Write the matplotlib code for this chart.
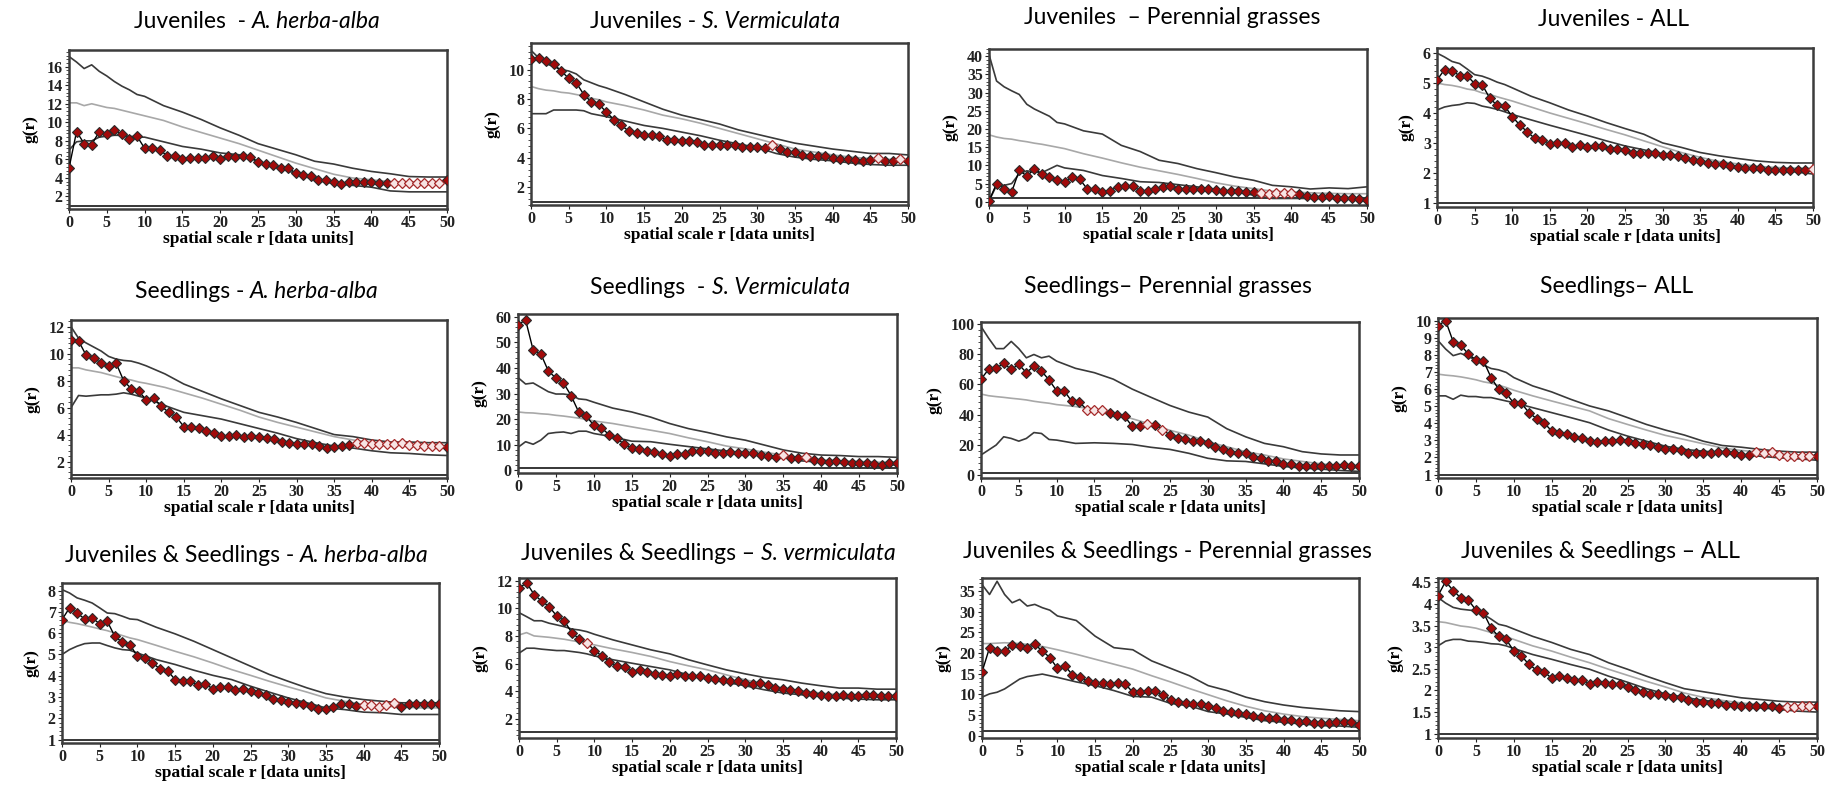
import matplotlib
matplotlib.use("Agg")
import matplotlib.pyplot as plt
import numpy as np
from matplotlib.font_manager import FontProperties
from matplotlib.ticker import AutoMinorLocator, FormatStrFormatter, MultipleLocator

# distance classes of the pair-correlation function g(r)
R_OBS = list(range(0, 51))
R_ENV = [0, 1, 2, 3, 4, 5, 6, 7, 8, 9, 10, 12.5, 15, 17.5, 20, 22.5, 25, 27.5,
         30, 32.5, 35, 37.5, 40, 42.5, 45, 47.5, 50]

# ---- Juveniles - A. herba-alba
juv_aha_obs = [5.05, 9.0, 7.7, 7.6, 9.0, 8.7, 9.2, 8.7, 8.2, 8.5, 7.2, 7.2, 7.0, 6.4, 6.4,
               6.0, 6.1, 6.2, 6.1, 6.4, 6.0, 6.4, 6.3, 6.4, 6.3, 5.7, 5.5, 5.4, 5.1, 5.1,
               4.5, 4.3, 4.2, 3.8, 3.8, 3.6, 3.4, 3.6, 3.6, 3.6, 3.6, 3.45, 3.45, 3.5, 3.5,
               3.5, 3.5, 3.5, 3.5, 3.5, 3.8]
juv_aha_hi = [17.1, 16.5, 15.8, 16.2, 15.5, 15.0, 14.4, 13.9, 13.5, 13.0, 12.8, 11.8, 11.1,
              10.3, 9.4, 8.6, 7.7, 7.1, 6.5, 5.8, 5.5, 5.05, 4.7, 4.45, 4.15, 4.1, 4.1]
juv_aha_csr = [12.1, 12.1, 11.8, 12.0, 11.8, 11.6, 11.5, 11.3, 11.1, 10.9, 10.7, 10.2, 9.5,
               8.9, 8.3, 7.7, 7.0, 6.3, 5.6, 5.0, 4.4, 4.0, 3.8, 3.6, 3.55, 3.5, 3.5]
juv_aha_lo = [7.0, 7.9, 8.0, 8.0, 8.4, 8.5, 8.6, 8.6, 8.5, 8.4, 8.4, 7.9, 7.4, 7.1, 6.7,
              6.5, 5.8, 5.1, 4.5, 3.8, 3.4, 3.2, 3.0, 2.6, 2.5, 2.5, 2.5]

# ---- Juveniles - S. vermiculata
juv_sve_obs = [10.7, 10.8, 10.6, 10.35, 9.9, 9.4, 9.1, 8.3, 7.8, 7.65, 7.1, 6.6, 6.2, 5.8,
               5.7, 5.55, 5.55, 5.5, 5.2, 5.2, 5.15, 5.15, 5.1, 4.9, 4.9, 4.9, 4.85, 4.9,
               4.75, 4.75, 4.75, 4.7, 4.9, 4.6, 4.4, 4.4, 4.2, 4.15, 4.15, 4.1, 4.0, 3.9,
               3.9, 3.85, 3.8, 3.85, 4.0, 3.8, 3.8, 3.95, 3.8]
juv_sve_hi = [11.3, 10.8, 10.4, 10.2, 10.0, 9.9, 9.7, 9.3, 9.1, 8.9, 8.75, 8.3, 7.8, 7.3,
              6.9, 6.6, 6.3, 5.9, 5.6, 5.3, 5.0, 4.8, 4.6, 4.45, 4.3, 4.3, 4.2]
juv_sve_csr = [8.85, 8.7, 8.6, 8.55, 8.45, 8.4, 8.3, 8.2, 8.05, 7.95, 7.8, 7.55, 7.25, 6.9,
               6.65, 6.35, 6.0, 5.65, 5.3, 4.95, 4.6, 4.4, 4.2, 4.05, 3.95, 3.9, 3.85]
juv_sve_lo = [7.0, 7.0, 7.0, 7.25, 7.25, 7.25, 7.25, 7.2, 7.0, 6.9, 6.8, 6.5, 6.2, 6.0,
              5.75, 5.5, 5.2, 4.95, 4.7, 4.3, 4.05, 3.9, 3.8, 3.65, 3.55, 3.5, 3.5]

# ---- Juveniles - perennial grasses
juv_per_obs = [0.2, 5.0, 3.6, 2.7, 8.6, 7.1, 8.9, 7.7, 6.8, 6.1, 5.5, 6.8, 6.2, 3.5, 3.4,
               2.7, 3.0, 4.1, 4.4, 4.3, 3.0, 3.0, 3.6, 4.1, 4.4, 3.6, 3.6, 3.4, 3.6, 3.6,
               3.2, 3.0, 3.0, 2.9, 2.7, 2.7, 2.5, 2.1, 2.3, 2.3, 2.5, 2.0, 1.6, 1.4, 1.4,
               1.5, 1.1, 1.1, 1.1, 0.7, 0.6]
juv_per_hi = [40.5, 33.2, 31.6, 30.5, 29.5, 26.8, 25.5, 24.5, 23.5, 21.8, 21.4, 19.5, 18.6,
              15.5, 13.8, 11.4, 10.5, 9.1, 8.0, 6.8, 5.9, 4.5, 4.1, 3.5, 3.8, 3.6, 4.1]
juv_per_csr = [18.4, 17.8, 17.4, 17.2, 16.8, 16.5, 16.1, 15.8, 15.4, 15.0, 14.6, 13.2, 12.0,
               10.7, 9.5, 8.5, 7.5, 6.4, 5.2, 4.3, 3.6, 2.9, 2.7, 2.45, 2.3, 2.2, 2.2]
juv_per_lo = [0.2, 4.5, 4.5, 5.0, 7.7, 8.5, 8.2, 8.0, 9.0, 10.0, 9.3, 8.6, 7.2, 6.4, 5.5,
              5.3, 4.7, 4.1, 3.2, 2.7, 1.8, 0.9, 0.9, 0.9, 0.9, 0.9, 0.7]

# ---- Juveniles - all species
juv_all_obs = [5.1, 5.45, 5.4, 5.25, 5.25, 4.98, 4.95, 4.5, 4.25, 4.23, 3.88, 3.6, 3.37,
               3.15, 3.1, 2.98, 3.0, 3.0, 2.87, 2.93, 2.85, 2.9, 2.9, 2.8, 2.8, 2.76, 2.68,
               2.68, 2.65, 2.65, 2.6, 2.6, 2.57, 2.5, 2.44, 2.4, 2.33, 2.3, 2.3, 2.24, 2.18,
               2.15, 2.15, 2.15, 2.1, 2.1, 2.1, 2.1, 2.1, 2.1, 2.13]
juv_all_hi = [6.0, 5.87, 5.72, 5.65, 5.47, 5.28, 5.23, 5.14, 5.03, 4.95, 4.84, 4.56, 4.34,
              4.1, 3.9, 3.68, 3.48, 3.29, 3.0, 2.85, 2.68, 2.57, 2.48, 2.4, 2.35, 2.33, 2.33]
juv_all_csr = [5.0, 4.95, 4.92, 4.87, 4.8, 4.76, 4.67, 4.62, 4.54, 4.47, 4.4, 4.2, 4.0,
               3.82, 3.64, 3.45, 3.27, 3.07, 2.87, 2.68, 2.52, 2.38, 2.3, 2.22, 2.18, 2.16, 2.15]
juv_all_lo = [4.1, 4.2, 4.25, 4.28, 4.34, 4.32, 4.23, 4.18, 4.12, 4.04, 3.95, 3.77, 3.59,
              3.42, 3.25, 3.07, 2.9, 2.77, 2.63, 2.48, 2.35, 2.27, 2.2, 2.13, 2.07, 2.04, 1.96]

# ---- Seedlings - A. herba-alba
sdl_aha_obs = [11.0, 10.95, 9.9, 9.7, 9.3, 9.1, 9.3, 8.0, 7.4, 7.2, 6.6, 6.7, 6.1, 5.65,
               5.3, 4.6, 4.55, 4.5, 4.25, 4.15, 3.9, 3.9, 4.0, 3.85, 3.9, 3.85, 3.75, 3.65,
               3.45, 3.4, 3.3, 3.3, 3.3, 3.15, 3.0, 3.1, 3.15, 3.2, 3.4, 3.4, 3.3, 3.3, 3.3,
               3.3, 3.35, 3.2, 3.2, 3.15, 3.15, 3.15, 3.1]
sdl_aha_hi = [12.0, 11.15, 10.8, 10.5, 10.2, 9.8, 9.6, 9.5, 9.45, 9.3, 9.1, 8.5, 7.75, 7.2,
              6.65, 6.15, 5.65, 5.3, 4.9, 4.45, 4.0, 3.85, 3.6, 3.45, 3.45, 3.4, 3.4]
sdl_aha_csr = [8.95, 8.95, 8.8, 8.7, 8.6, 8.45, 8.3, 8.15, 8.05, 7.9, 7.8, 7.5, 7.1, 6.7,
               6.25, 5.8, 5.3, 4.9, 4.55, 4.2, 3.85, 3.6, 3.4, 3.25, 3.15, 3.1, 3.1]
sdl_aha_lo = [6.0, 6.9, 6.85, 6.9, 6.95, 6.95, 7.0, 7.1, 7.0, 6.85, 6.7, 6.15, 5.65, 5.4,
              5.15, 4.8, 4.45, 4.1, 3.7, 3.4, 3.15, 3.0, 2.8, 2.65, 2.6, 2.5, 2.45]

# ---- Seedlings - S. vermiculata
sdl_sve_obs = [56.8, 58.7, 46.9, 45.5, 38.8, 36.0, 34.1, 29.2, 22.8, 21.2, 17.6, 16.6, 14.0,
               12.5, 10.3, 8.6, 8.2, 7.7, 7.3, 6.3, 5.8, 6.4, 6.4, 7.6, 7.6, 7.7, 6.9, 6.9,
               7.3, 6.9, 6.9, 6.7, 6.0, 5.8, 5.4, 6.0, 4.8, 4.8, 5.1, 4.1, 3.5, 3.2, 3.5, 3.1,
               2.8, 2.8, 2.8, 2.4, 2.2, 2.8, 2.8]
sdl_sve_hi = [36.2, 33.7, 34.1, 32.4, 30.7, 29.8, 29.8, 29.4, 27.9, 27.6, 26.6, 24.3, 22.8,
              20.8, 18.3, 16.3, 14.8, 13.1, 11.8, 9.9, 8.0, 6.7, 6.0, 5.8, 5.4, 5.4, 5.1]
sdl_sve_csr = [22.8, 22.5, 22.4, 22.1, 21.9, 21.5, 21.2, 20.8, 20.4, 19.9, 19.3, 18.3, 17.0,
               15.7, 14.4, 12.7, 11.2, 9.5, 8.4, 7.1, 6.0, 4.8, 4.1, 3.7, 3.5, 3.2, 3.2]
sdl_sve_lo = [9.0, 11.2, 10.2, 11.8, 14.4, 14.8, 15.0, 14.4, 15.3, 15.3, 14.4, 13.1, 11.4,
              11.2, 10.2, 9.3, 8.4, 7.6, 6.7, 6.0, 5.0, 3.7, 3.2, 2.8, 2.4, 2.2, 2.2]

# ---- Seedlings - perennial grasses
sdl_per_obs = [63.5, 70.0, 70.7, 74.0, 70.0, 73.3, 67.8, 72.2, 68.9, 63.0, 55.8, 55.8, 48.8,
               48.1, 43.3, 42.7, 43.1, 40.9, 39.4, 38.7, 32.2, 32.2, 33.9, 33.3, 30.0, 26.3,
               24.1, 23.4, 22.5, 22.5, 20.8, 18.6, 17.1, 15.3, 14.7, 14.2, 11.6, 10.9, 9.4,
               9.4, 7.2, 7.2, 5.9, 5.9, 5.5, 5.5, 6.1, 6.1, 6.6, 6.1, 5.9]
sdl_per_hi = [98.5, 90.8, 83.8, 83.8, 88.6, 83.8, 77.7, 79.9, 77.7, 78.8, 75.5, 70.7, 67.8,
              63.5, 56.9, 51.4, 46.0, 41.6, 38.3, 30.6, 25.2, 20.8, 18.6, 15.3, 13.8, 13.1, 13.1]
sdl_per_csr = [53.6, 52.5, 51.9, 51.4, 50.8, 50.3, 49.7, 48.8, 48.1, 47.5, 46.6, 45.3, 43.3,
               40.9, 37.2, 33.5, 29.5, 26.3, 21.9, 18.6, 15.3, 13.1, 10.5, 8.8, 7.2, 6.1, 5.5]
sdl_per_lo = [13.1, 16.4, 19.7, 25.2, 24.1, 22.3, 24.1, 28.0, 27.4, 23.4, 23.0, 20.8, 21.2,
              20.8, 20.1, 18.2, 16.8, 14.2, 10.9, 9.2, 8.8, 7.2, 5.5, 4.4, 3.7, 2.8, 2.2]

# ---- Seedlings - all species
sdl_all_obs = [9.7, 10.0, 8.77, 8.57, 8.04, 7.71, 7.65, 6.67, 5.99, 5.75, 5.17, 5.17, 4.62,
               4.27, 4.03, 3.54, 3.44, 3.35, 3.2, 3.15, 2.95, 2.9, 2.95, 2.95, 3.01, 2.95,
               2.82, 2.76, 2.7, 2.62, 2.47, 2.47, 2.41, 2.27, 2.27, 2.27, 2.27, 2.33, 2.33,
               2.27, 2.17, 2.13, 2.31, 2.27, 2.33, 2.17, 2.07, 2.07, 2.07, 2.07, 2.07]
sdl_all_hi = [8.83, 8.34, 7.95, 8.08, 7.9, 7.69, 7.4, 7.2, 7.12, 6.97, 6.67, 6.18, 5.83,
              5.4, 5.01, 4.72, 4.33, 3.93, 3.6, 3.31, 2.95, 2.7, 2.6, 2.47, 2.37, 2.31, 2.31]
sdl_all_csr = [6.87, 6.81, 6.77, 6.71, 6.63, 6.54, 6.42, 6.34, 6.22, 6.09, 5.93, 5.6, 5.3,
               5.01, 4.72, 4.27, 3.93, 3.6, 3.29, 3.05, 2.8, 2.56, 2.41, 2.31, 2.21, 2.13, 2.07]
sdl_all_lo = [5.6, 5.6, 5.4, 5.64, 5.56, 5.56, 5.5, 5.5, 5.4, 5.3, 5.2, 4.91, 4.62, 4.33,
              4.03, 3.6, 3.25, 2.95, 2.66, 2.47, 2.37, 2.27, 2.17, 2.07, 1.98, 1.92, 1.84]

# ---- Juveniles & seedlings - A. herba-alba
js_aha_obs = [6.64, 7.19, 6.95, 6.67, 6.72, 6.44, 6.56, 5.86, 5.57, 5.46, 4.92, 4.84, 4.6,
              4.32, 4.24, 3.82, 3.77, 3.74, 3.56, 3.59, 3.4, 3.48, 3.48, 3.35, 3.4, 3.27,
              3.2, 3.09, 2.91, 2.85, 2.76, 2.73, 2.65, 2.6, 2.46, 2.46, 2.54, 2.65, 2.65,
              2.6, 2.62, 2.62, 2.54, 2.62, 2.73, 2.54, 2.65, 2.65, 2.65, 2.65, 2.65]
js_aha_hi = [8.05, 7.89, 7.66, 7.55, 7.42, 7.19, 6.95, 6.92, 6.8, 6.67, 6.64, 6.28, 5.97,
             5.62, 5.23, 4.84, 4.45, 4.06, 3.74, 3.43, 3.16, 3.0, 2.88, 2.8, 2.73, 2.73, 2.73]
js_aha_csr = [6.61, 6.51, 6.45, 6.37, 6.29, 6.2, 6.12, 6.01, 5.89, 5.78, 5.7, 5.43, 5.15,
              4.89, 4.6, 4.29, 4.02, 3.74, 3.48, 3.23, 2.96, 2.8, 2.65, 2.57, 2.54, 2.49, 2.49]
js_aha_lo = [5.0, 5.23, 5.39, 5.51, 5.54, 5.54, 5.42, 5.31, 5.23, 5.2, 5.07, 4.76, 4.53,
             4.26, 4.02, 3.82, 3.51, 3.23, 2.96, 2.73, 2.49, 2.41, 2.29, 2.26, 2.18, 2.18, 2.18]

# ---- Juveniles & seedlings - S. vermiculata
js_sve_obs = [11.45, 11.86, 11.0, 10.53, 10.12, 9.45, 9.1, 8.24, 7.78, 7.52, 6.94, 6.55,
              6.1, 5.83, 5.73, 5.42, 5.54, 5.35, 5.25, 5.18, 5.13, 5.23, 5.06, 5.06, 5.06,
              4.94, 4.87, 4.77, 4.7, 4.7, 4.58, 4.53, 4.58, 4.46, 4.22, 4.14, 4.05, 3.98,
              3.86, 3.78, 3.69, 3.61, 3.61, 3.69, 3.61, 3.61, 3.69, 3.69, 3.61, 3.66, 3.61]
js_sve_hi = [9.69, 9.4, 9.1, 9.1, 8.92, 8.8, 8.67, 8.5, 8.43, 8.31, 8.12, 7.71, 7.35, 6.99,
             6.7, 6.27, 5.9, 5.54, 5.25, 4.99, 4.82, 4.58, 4.39, 4.22, 4.22, 4.14, 4.14]
js_sve_csr = [8.07, 8.24, 8.0, 7.95, 7.9, 7.83, 7.76, 7.66, 7.57, 7.47, 7.35, 7.06, 6.8,
              6.51, 6.14, 5.83, 5.54, 5.18, 4.82, 4.53, 4.22, 4.02, 3.86, 3.73, 3.66, 3.61, 3.61]
js_sve_lo = [6.75, 7.11, 7.11, 7.04, 6.99, 6.94, 6.94, 6.87, 6.8, 6.7, 6.55, 6.27, 6.02,
             5.78, 5.54, 5.18, 4.87, 4.63, 4.39, 4.1, 3.86, 3.73, 3.61, 3.49, 3.42, 3.37, 3.37]

# ---- Juveniles & seedlings - perennial grasses
js_per_obs = [15.4, 21.3, 20.4, 20.4, 21.9, 21.7, 21.3, 22.1, 20.5, 18.9, 16.3, 16.9, 14.7,
              14.1, 13.3, 12.7, 12.7, 12.5, 12.7, 12.5, 10.5, 10.5, 10.7, 10.7, 9.9, 8.6,
              8.2, 7.9, 7.6, 7.6, 7.1, 6.6, 6.0, 5.8, 5.4, 5.2, 4.8, 4.6, 4.3, 4.3, 3.8,
              3.8, 3.2, 3.5, 3.0, 3.0, 3.0, 3.4, 3.4, 3.4, 2.6]
js_per_hi = [36.6, 34.2, 37.4, 34.2, 32.2, 33.0, 31.4, 31.8, 31.0, 30.4, 29.0, 27.9, 24.1,
             21.3, 20.8, 18.1, 16.3, 14.5, 12.1, 10.9, 9.3, 8.2, 7.4, 6.8, 6.4, 6.0, 5.8]
js_per_csr = [22.3, 22.3, 22.4, 22.5, 22.4, 22.3, 22.1, 21.9, 21.6, 21.2, 20.8, 19.7, 18.5,
              17.3, 16.1, 14.5, 13.0, 11.4, 9.9, 8.4, 7.1, 6.0, 5.2, 4.6, 4.2, 3.9, 3.6]
js_per_lo = [9.3, 10.1, 10.5, 11.3, 12.5, 13.7, 14.3, 14.6, 14.9, 14.5, 14.1, 13.0, 12.1,
             10.9, 9.5, 9.3, 7.8, 7.2, 5.8, 5.2, 4.4, 3.6, 3.2, 2.8, 2.4, 2.3, 2.0]

# ---- Juveniles & seedlings - all species
js_all_obs = [4.19, 4.52, 4.31, 4.14, 4.09, 3.86, 3.8, 3.44, 3.25, 3.18, 2.91, 2.8, 2.6,
              2.47, 2.43, 2.28, 2.33, 2.28, 2.24, 2.24, 2.16, 2.2, 2.18, 2.14, 2.14, 2.08,
              2.02, 1.97, 1.92, 1.92, 1.89, 1.84, 1.84, 1.79, 1.73, 1.73, 1.71, 1.71, 1.67,
              1.67, 1.63, 1.63, 1.63, 1.63, 1.63, 1.6, 1.62, 1.62, 1.63, 1.63, 1.63]
js_all_hi = [4.15, 4.02, 3.92, 3.88, 3.86, 3.84, 3.76, 3.65, 3.53, 3.49, 3.42, 3.25, 3.11,
             2.95, 2.83, 2.64, 2.49, 2.33, 2.18, 2.04, 1.97, 1.9, 1.83, 1.79, 1.75, 1.73, 1.73]
js_all_csr = [3.59, 3.57, 3.53, 3.49, 3.47, 3.44, 3.39, 3.34, 3.28, 3.24, 3.18, 3.03, 2.91,
              2.77, 2.64, 2.49, 2.35, 2.21, 2.08, 1.94, 1.84, 1.77, 1.71, 1.67, 1.65, 1.63, 1.63]
js_all_lo = [3.03, 3.14, 3.18, 3.18, 3.14, 3.13, 3.11, 3.08, 3.07, 3.03, 2.97, 2.83, 2.72,
             2.6, 2.49, 2.33, 2.19, 2.04, 1.92, 1.84, 1.77, 1.73, 1.65, 1.6, 1.56, 1.52, 1.5]

# panel titles: (upright part, italic species part)
TITLES = [
    ("Juveniles  - ", "A. herba-alba"), ("Juveniles - ", "S. Vermiculata"),
    ("Juveniles  \u2013 Perennial grasses", ""), ("Juveniles - ALL", ""),
    ("Seedlings - ", "A. herba-alba"), ("Seedlings  - ", "S. Vermiculata"),
    ("Seedlings\u2013 Perennial grasses", ""), ("Seedlings\u2013 ALL", ""),
    ("Juveniles & Seedlings - ", "A. herba-alba"), ("Juveniles & Seedlings \u2013 ", "S. vermiculata"),
    ("Juveniles & Seedlings - Perennial grasses", ""), ("Juveniles & Seedlings \u2013 ALL", ""),
]

SERIES = [
    (juv_aha_obs, juv_aha_hi, juv_aha_csr, juv_aha_lo),
    (juv_sve_obs, juv_sve_hi, juv_sve_csr, juv_sve_lo),
    (juv_per_obs, juv_per_hi, juv_per_csr, juv_per_lo),
    (juv_all_obs, juv_all_hi, juv_all_csr, juv_all_lo),
    (sdl_aha_obs, sdl_aha_hi, sdl_aha_csr, sdl_aha_lo),
    (sdl_sve_obs, sdl_sve_hi, sdl_sve_csr, sdl_sve_lo),
    (sdl_per_obs, sdl_per_hi, sdl_per_csr, sdl_per_lo),
    (sdl_all_obs, sdl_all_hi, sdl_all_csr, sdl_all_lo),
    (js_aha_obs, js_aha_hi, js_aha_csr, js_aha_lo),
    (js_sve_obs, js_sve_hi, js_sve_csr, js_sve_lo),
    (js_per_obs, js_per_hi, js_per_csr, js_per_lo),
    (js_all_obs, js_all_hi, js_all_csr, js_all_lo),
]

# y range and tick step for each panel
Y_LIMITS = [(0.65, 17.8), (0.8, 11.8), (-0.9, 42), (0.86, 6.17),
            (0.78, 12.5), (-1.0, 61), (-2.2, 101.5), (0.8, 10.15),
            (0.84, 8.36), (0.6, 12.2), (-0.6, 38.2), (0.9, 4.6)]
Y_STEPS = [2, 2, 5, 1, 2, 10, 20, 1, 1, 2, 5, 0.5]

# distances whose markers are drawn pale (inside the simulation envelope)
PALE = [list(range(43, 50)), [32, 46, 49], list(range(36, 41)), [50],
        list(range(38, 50)), [35, 38], [14, 15, 16, 22, 24], list(range(42, 50)),
        list(range(40, 45)), [9], [], list(range(46, 50))]

# axes boxes in pixels: left, top, right, bottom
BOXES = [(69, 50, 447, 209), (531, 43, 908, 205), (989, 49, 1367, 205), (1437, 48, 1813, 207),
         (71, 320, 447, 478), (518, 314, 897, 473), (981, 322, 1359, 478), (1438, 318, 1817, 478),
         (62, 583, 439, 743), (519, 578, 896, 738), (982, 578, 1359, 738), (1438, 578, 1817, 738)]
TITLE_POS = [(257, 22), (715, 22), (1172, 18), (1613, 20),
             (257, 292), (720, 288), (1168, 287), (1617, 287),
             (247, 555), (708, 553), (1167, 551), (1600, 552)]

W, H = 1837, 785
TITLE_FONT = "Lato"
TICK_FONT = FontProperties(family="Liberation Serif", weight="bold", size=11.5)
LABEL_FONT = dict(family="Liberation Serif", weight="bold", size=12.5)

fig = plt.figure(figsize=(W / 100, H / 100), dpi=100)
fig.patch.set_facecolor("white")
renderer = fig.canvas.get_renderer()


def draw_title(cx, cy, plain, italic):
    # upright and italic parts share one centred line
    y = 1 - cy / H
    t1 = fig.text(0, y, plain, family=TITLE_FONT, size=16.5, va="center", ha="left")
    w1 = t1.get_window_extent(renderer).width
    w2 = 0
    t2 = None
    if italic:
        t2 = fig.text(0, y, italic, family=TITLE_FONT, style="italic", size=16.5,
                      va="center", ha="left")
        w2 = t2.get_window_extent(renderer).width
    x0 = cx - (w1 + w2) / 2
    t1.set_x(x0 / W)
    if t2 is not None:
        t2.set_x((x0 + w1) / W)


for i, (obs, hi, csr, lo) in enumerate(SERIES):
    left, top, right, bottom = BOXES[i]
    ax = fig.add_axes([left / W, 1 - bottom / H, (right - left) / W, (bottom - top) / H])

    ax.axhline(1, color="black", lw=1.1, zorder=1)
    ax.plot(R_ENV, hi, color="#3a3a3a", lw=1.2, zorder=2)
    ax.plot(R_ENV, lo, color="#3a3a3a", lw=1.2, zorder=2)
    ax.plot(R_ENV, csr, color="#a8a8a8", lw=1.2, zorder=2)
    ax.plot(R_OBS, obs, color="black", lw=1.0, zorder=3)

    obs = np.asarray(obs)
    pale = np.zeros(len(obs), dtype=bool)
    pale[PALE[i]] = True
    r = np.asarray(R_OBS)
    ax.plot(r[~pale], obs[~pale], ls="none", marker="D", ms=5.2, mfc="#a20a0a",
            mec="#2a2a2a", mew=0.8, zorder=4)
    ax.plot(r[pale], obs[pale], ls="none", marker="D", ms=5.2, mfc="#f7e4e4",
            mec="#a52a2a", mew=0.9, zorder=4)

    ax.set_xlim(0, 50)
    ax.set_ylim(*Y_LIMITS[i])
    ax.xaxis.set_major_locator(MultipleLocator(5))
    ax.yaxis.set_major_locator(MultipleLocator(Y_STEPS[i]))
    ax.yaxis.set_minor_locator(AutoMinorLocator(5))
    ax.yaxis.set_major_formatter(FormatStrFormatter("%g"))
    ax.tick_params(axis="both", which="major", length=3, width=0.8, pad=1.5,
                   direction="out", colors="#222222")
    ax.tick_params(axis="y", which="minor", length=2, width=0.5, direction="out")
    for lab in ax.get_xticklabels() + ax.get_yticklabels():
        lab.set_fontproperties(TICK_FONT)
    for sp in ax.spines.values():
        sp.set_linewidth(1.8)
        sp.set_color("#3c3c3c")

    ax.set_xlabel("spatial scale r [data units]", fontdict=LABEL_FONT, labelpad=0)
    ax.set_ylabel("g(r)", fontdict=LABEL_FONT, labelpad=6)

    draw_title(*TITLE_POS[i], *TITLES[i])

fig.savefig("out.png", dpi=100, facecolor="white")
